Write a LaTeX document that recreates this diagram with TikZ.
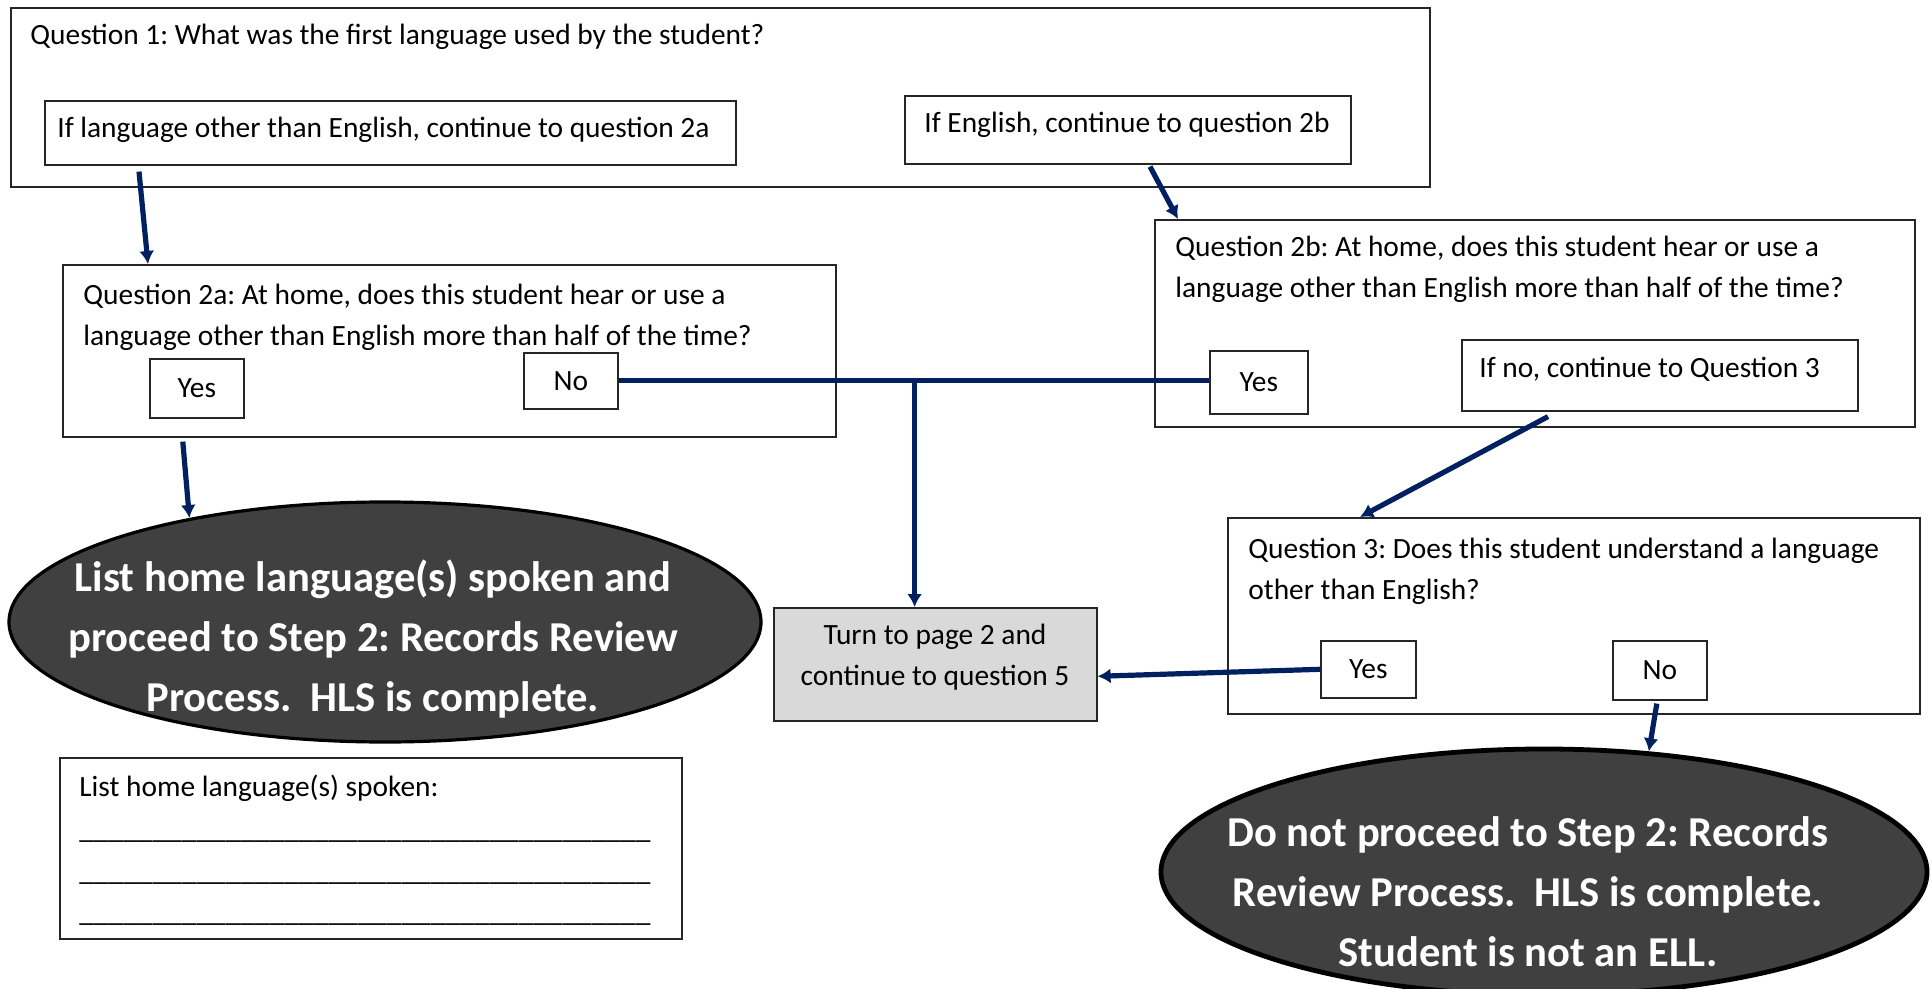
\documentclass[tikz,border=0pt]{standalone}
\usepackage{fontspec}
\setmainfont{Carlito}
\usepackage{xcolor}
\usetikzlibrary{arrows.meta,shapes.geometric}

\definecolor{navy}{HTML}{002060}
\definecolor{ovalgray}{HTML}{404040}
\definecolor{boxgray}{HTML}{D9D9D9}

\newcommand{\answerline}{\_\_\_\_\_\_\_\_\_\_\_\_\_\_\_\_\_\_\_\_\_\_\_\_\_\_\_\_\_\_\_\_\_\_\_\_\_\_\_}

\tikzset{
  box/.style={draw=black!85, line width=0.8pt, inner sep=0pt, anchor=north west, align=center,
    font=\fontsize{14.7}{20.5}\selectfont},
  txt/.style={inner sep=0pt, anchor=west, align=left, font=\fontsize{14.7}{20.5}\selectfont},
  endoval/.style={ellipse, draw=black, line width=1.6pt, fill=ovalgray, inner sep=0pt},
  ovaltxt/.style={inner sep=0pt, align=center, text=white, font=\fontsize{21.3}{30}\selectfont\bfseries},
  flow/.style={draw=navy, line width=2.6pt, -{Latex[length=6.5pt,width=7.5pt]}},
}

\begin{document}
\frenchspacing
\begin{tikzpicture}[x=0.5pt,y=-0.5pt]
    \useasboundingbox (0,0) rectangle (1931,989);

    % question 1
    \node[box, minimum width=709.5pt, minimum height=89.5pt] (q1) at (10,7) {};
    \node[txt] (q1txt) at (30,37) {Question 1: What was the first language used by the student?};
    \node[box, minimum width=345.5pt, minimum height=32pt] (ifa) at (44,100) {};
    \node[txt] (ifatxt) at (57,130) {If language other than English, continue to question 2a};
    \node[box, minimum width=223pt, minimum height=34pt] (ifb) at (904,95) {};
    \node[txt] (ifbtxt) at (924,125) {If English, continue to question 2b};

    % question 2a
    \node[box, minimum width=386.5pt, minimum height=86pt] (q2a) at (62,264) {};
    \node[txt] (q2atxt) at (83,317) {Question 2a: At home, does this student hear or use a\\language other than English more than half of the time?};
    \node[box, minimum width=47pt, minimum height=29.5pt] (yes2a) at (149,358) {Yes};
    \node[box, minimum width=47pt, minimum height=28pt] (no2a) at (523,352) {No};

    % question 2b
    \node[box, minimum width=380pt, minimum height=103.5pt] (q2b) at (1154,219) {};
    \node[txt] (q2btxt) at (1175,269) {Question 2b: At home, does this student hear or use a\\language other than English more than half of the time?};
    \node[box, minimum width=49pt, minimum height=31.5pt] (yes2b) at (1209,350) {Yes};
    \node[box, minimum width=198pt, minimum height=35.5pt] (ifno) at (1461,339) {};
    \node[txt] (ifnotxt) at (1479,369) {If no, continue to Question 3};

    % question 3
    \node[box, minimum width=346pt, minimum height=98pt] (q3) at (1227,517) {};
    \node[txt] (q3txt) at (1248,571) {Question 3: Does this student understand a language\\other than English?};
    \node[box, minimum width=47.5pt, minimum height=28.5pt] (yes3) at (1320,640) {Yes};
    \node[box, minimum width=47pt, minimum height=29.5pt] (no3) at (1612,640) {No};

    \node[box, fill=boxgray, minimum width=161.5pt, minimum height=56.5pt] (turn) at (773,607) {};
    \node[txt, align=center, anchor=center] (turntxt) at (935,657) {Turn to page 2 and\\continue to question 5};

    % end ovals
    \node[endoval, minimum width=376pt, minimum height=120pt] (e1) at (385,622) {};
    \node[ovaltxt] (e1txt) at (373,639) {List home language(s) spoken and\\proceed to Step 2: Records Review\\Process.\ \ HLS is complete.};
    \node[endoval, line width=2.4pt, minimum width=383pt, minimum height=123pt] (e2) at (1544,872) {};
    \node[ovaltxt] (e2txt) at (1528,892) {Do not proceed to Step 2: Records\\Review Process.\ \ HLS is complete.\\Student is not an ELL.};

    \node[box, minimum width=311pt, minimum height=90.5pt] (list) at (59,757) {};
    \node[txt, anchor=north west, font=\fontsize{14.7}{20.8}\selectfont] (listtxt) at (79,775) {List home language(s) spoken:\\\answerline\\\answerline\\\answerline};

    % arrows
    \draw[flow] ([shift={(95,6)}]ifa.south west) -- ([shift={(86,0)}]q2a.north west);
    \draw[flow] ([shift={(246,2)}]ifb.south west) -- ([shift={(24,0)}]q2b.north west);
    \draw[flow] ([shift={(-14,23)}]yes2a.south) -- (e1.152);
    \draw[navy, line width=2.6pt] (no2a.east) -- (no2a.east -| yes2b.west);
    \coordinate (j) at ([shift={(296,0)}]no2a.east);
    \draw[flow] (j) -- (j |- turn.north);
    \draw[flow] ([shift={(87,5)}]ifno.south west) -- ([shift={(133,0)}]q3.north west);
    \draw[flow] (yes3.west) -- ([shift={(0,12)}]turn.east);
    \draw[flow] ([shift={(-3,3)}]no3.south) -- (e2.49);
\end{tikzpicture}
\end{document}
